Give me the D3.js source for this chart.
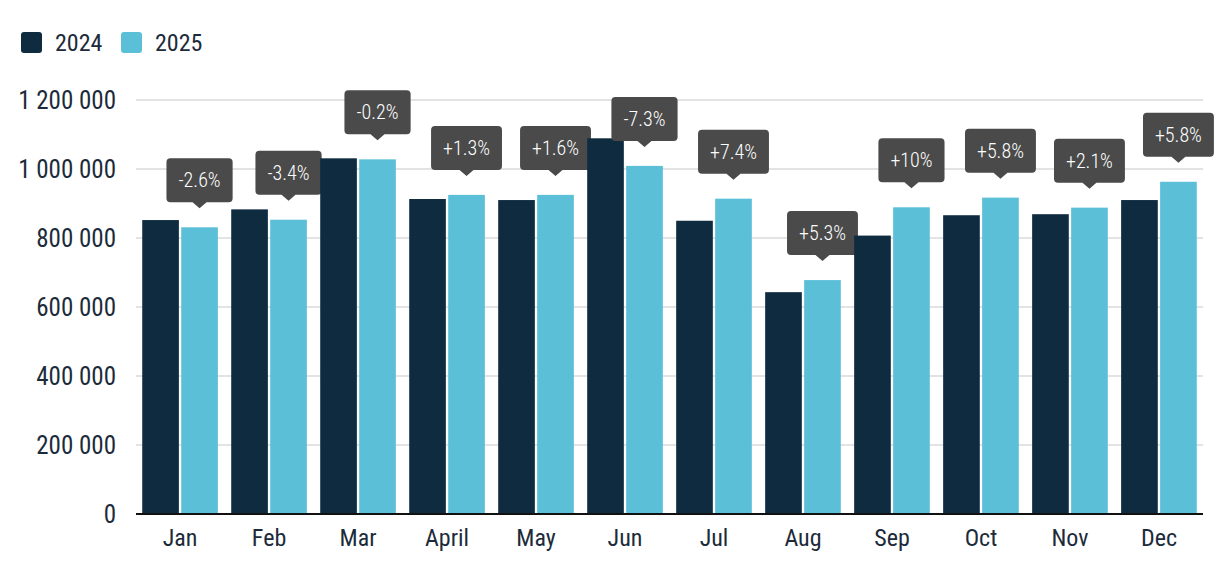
<!DOCTYPE html>
<html lang="en">
<head>
<meta charset="UTF-8">
<title>2024 vs 2025</title>
<script src="https://cdn.jsdelivr.net/npm/d3@7"></script>
<style>
    body { margin: 0; background: #fff; }
    svg { display: block; }
    svg text { font-family: "Roboto Condensed", Roboto, "Noto Sans", sans-serif; }
    .tick text { fill: #1c2b3a; }
</style>
</head>
<body>
<svg id="chart" width="1226" height="568"></svg>
<script>
// data
const months = ["Jan", "Feb", "Mar", "April", "May", "Jun", "Jul", "Aug", "Sep", "Oct", "Nov", "Dec"];
const years = ["2024", "2025"];
const values2024 = [852000, 883000, 1031000, 913000, 910000, 1089000, 850000, 643000, 807000, 866000, 869000, 910000];
const values2025 = [831000, 853000, 1028000, 925000, 925000, 1009000, 914000, 678000, 889000, 917000, 888000, 963000];
const changes = ["-2.6%", "-3.4%", "-0.2%", "+1.3%", "+1.6%", "-7.3%", "+7.4%", "+5.3%", "+10%", "+5.8%", "+2.1%", "+5.8%"];
const yTicks = [0, 200000, 400000, 600000, 800000, 1000000, 1200000];

const colors = { "2024": "#0f2b40", "2025": "#5abfd7" };

const svg = d3.select("#chart");
const plotLeft = 136, plotRight = 1203, plotTop = 100, plotBottom = 514;

const x = d3.scaleBand().domain(months).range([plotLeft, plotRight]).paddingInner(0.15).paddingOuter(0.07);
const xi = d3.scaleBand().domain(years).range([0, x.bandwidth()]).paddingInner(0.06);
const y = d3.scaleLinear().domain([0, 1200000]).range([plotBottom, plotTop]);

const fmt = v => d3.format(",")(v).replace(/,/g, " ");

// grid
svg.append("g")
    .selectAll("line").data(yTicks.filter(d => d > 0)).join("line")
    .attr("x1", plotLeft).attr("x2", plotRight)
    .attr("y1", d => y(d)).attr("y2", d => y(d))
    .attr("stroke", "#e3e3e3").attr("stroke-width", 2);

// y axis
const yAxis = svg.append("g")
    .attr("transform", `translate(${plotLeft - 20},0)`)
    .call(d3.axisLeft(y).tickValues(yTicks).tickFormat(fmt).tickSize(0).tickPadding(0));
yAxis.select(".domain").remove();
yAxis.attr("font-family", null);
yAxis.selectAll("text").attr("font-size", 25).attr("dy", "0.35em");

// bars
const rows = months.map((m, i) => ({ month: m, "2024": values2024[i], "2025": values2025[i], change: changes[i] }));

const groups = svg.append("g").selectAll("g").data(rows).join("g")
    .attr("transform", d => `translate(${x(d.month)},0)`);

groups.selectAll("rect").data(d => years.map(k => ({ key: k, value: d[k] }))).join("rect")
    .attr("x", d => xi(d.key))
    .attr("width", xi.bandwidth())
    .attr("y", d => y(d.value))
    .attr("height", d => y(0) - y(d.value))
    .attr("fill", d => colors[d.key]);

// x axis
const xAxis = svg.append("g")
    .attr("transform", `translate(0,${plotBottom})`)
    .call(d3.axisBottom(x).tickSize(0).tickPadding(15));
xAxis.attr("font-family", null);
xAxis.select(".domain").attr("stroke", "#111").attr("stroke-width", 2).attr("d", `M${plotLeft},0H${plotRight}`);
xAxis.selectAll("text").attr("font-size", 24).attr("dy", "0.71em");

// change labels
const tips = groups.append("g")
    .attr("transform", d => `translate(${xi("2025") + xi.bandwidth() / 2},${y(d["2025"]) - 19})`);

tips.each(function(d) {
    const g = d3.select(this);
    const t = g.append("text")
        .attr("x", 0).attr("y", -28)
        .attr("text-anchor", "middle")
        .attr("dominant-baseline", "central")
        .attr("font-size", 20)
        .attr("font-weight", 300)
        .attr("fill", "#fff")
        .text(d.change);
    const w = t.node().getComputedTextLength() + 24;
    g.insert("path", "text")
        .attr("d", `M${-w / 2 + 4},-50H${w / 2 - 4}Q${w / 2},-50 ${w / 2},-46V-10Q${w / 2},-6 ${w / 2 - 4},-6H7L0,0L-7,-6H${-w / 2 + 4}Q${-w / 2},-6 ${-w / 2},-10V-46Q${-w / 2},-50 ${-w / 2 + 4},-50Z`)
        .attr("fill", "#4a4a4a");
});

// legend
const legend = svg.append("g").attr("transform", "translate(21,32)");
const item = legend.selectAll("g").data(years).join("g")
    .attr("transform", (d, i) => `translate(${i * 100},0)`);
item.append("rect").attr("width", 21).attr("height", 21).attr("rx", 3).attr("fill", d => colors[d]);
item.append("text").attr("x", 34).attr("y", 11).attr("dy", "0.35em")
    .attr("font-size", 24).attr("fill", "#1c2b3a").text(d => d);
</script>
</body>
</html>
